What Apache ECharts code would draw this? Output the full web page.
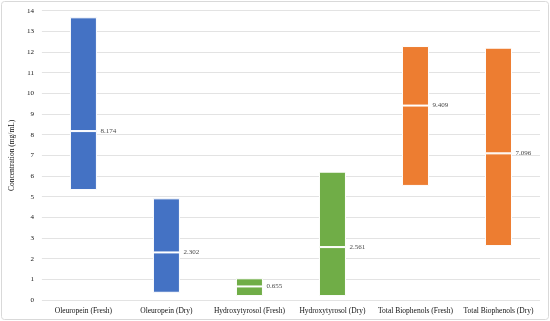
<!DOCTYPE html>
<html>
<head>
<meta charset="utf-8">
<script src="https://cdn.jsdelivr.net/npm/echarts@6/dist/echarts.min.js"></script>
<style>html,body{margin:0;padding:0;background:#fff}#c{width:550px;height:321px}</style>
</head>
<body>
<div id="c"></div>
<script>
var categories = ['Oleuropein (Fresh)', 'Oleuropein (Dry)', 'Hydroxytyrosol (Fresh)', 'Hydroxytyrosol (Dry)', 'Total Biophenols (Fresh)', 'Total Biophenols (Dry)'];
var minValues = [5.32, 0.35, 0.19, 0.19, 5.52, 2.61];
var medianValues = [8.174, 2.302, 0.655, 2.561, 9.409, 7.096];
var maxValues = [13.68, 4.92, 1.05, 6.21, 12.29, 12.21];
var yTicks = [0, 1, 2, 3, 4, 5, 6, 7, 8, 9, 10, 11, 12, 13, 14];
var barColors = ['#4472C4', '#4472C4', '#70AD47', '#70AD47', '#ED7D31', '#ED7D31'];

var font = '"Liberation Serif", "DejaVu Serif", serif';
function colored(vals) {
  return vals.map(function (v, i) { return { value: v, itemStyle: { color: barColors[i] } }; });
}
var lower = medianValues.map(function (m, i) { return m - minValues[i]; });
var upper = maxValues.map(function (m, i) { return m - medianValues[i]; });

var chart = echarts.init(document.getElementById('c'), null, { renderer: 'canvas' });
chart.setOption({
  animation: false,
  graphic: [{
    type: 'rect', shape: { x: 1.5, y: 1.5, width: 547, height: 318, r: 3 },
    style: { fill: 'none', stroke: '#d9d9d9', lineWidth: 1 }, silent: true, z: -1
  }],
  grid: { left: 33, right: 10, top: 10.7, bottom: 21 },
  xAxis: {
    type: 'category', data: categories,
    axisLine: { show: false }, axisTick: { show: false },
    axisLabel: { interval: 0, fontFamily: font, fontSize: 7.5, color: '#111', margin: 7 }
  },
  yAxis: {
    type: 'value', min: yTicks[0], max: yTicks[yTicks.length - 1], interval: 1,
    name: 'Concentration (mg/mL)', nameLocation: 'middle', nameGap: 17, nameRotate: 90,
    nameTextStyle: { fontFamily: font, fontSize: 7.5, color: '#111' },
    axisLine: { show: false }, axisTick: { show: false },
    axisLabel: { fontFamily: font, fontSize: 7, color: '#111', margin: 8 },
    splitLine: { lineStyle: { color: '#e3e3e3', width: 1 } }
  },
  series: [
    { type: 'bar', stack: 's', barWidth: 27, data: minValues, itemStyle: { color: 'transparent' }, silent: true },
    { type: 'bar', stack: 's', data: colored(lower), itemStyle: { borderColor: '#fff', borderWidth: 1 } },
    { type: 'bar', stack: 's', data: colored(upper), itemStyle: { borderColor: '#fff', borderWidth: 1 } },
    {
      type: 'scatter', data: medianValues, symbolSize: 0,
      label: {
        show: true, position: 'right', distance: 17,
        fontFamily: font, fontSize: 7, color: '#111',
        formatter: function (p) { return p.value.toFixed(3); }
      }
    }
  ]
});
</script>
</body>
</html>
